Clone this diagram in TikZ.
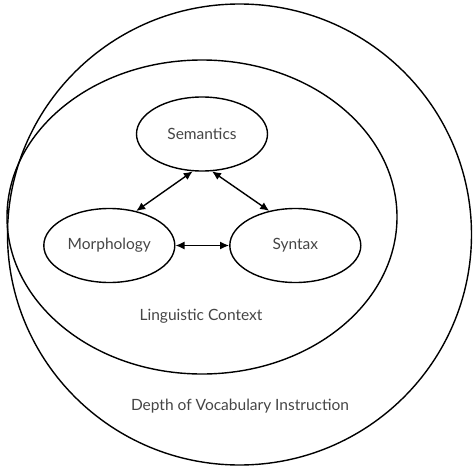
\documentclass[tikz,border=0pt]{standalone}
\usepackage{fontspec}
\setmainfont{Lato}
\usetikzlibrary{shapes.geometric,arrows.meta}
\definecolor{txtgray}{HTML}{454545}
\tikzset{
  ring/.style={draw=black, line width=1.4pt, ellipse, inner sep=0pt},
  topic/.style={draw=black, line width=1.4pt, ellipse, inner sep=0pt, minimum width=131pt, minimum height=74pt, text=txtgray, font=\fontsize{15.5}{18}\selectfont},
  lbl/.style={text=txtgray, font=\fontsize{15.5}{18}\selectfont, inner sep=0pt},
  link/.style={line width=1.4pt, {Latex[length=9pt,width=8pt]}-{Latex[length=9pt,width=8pt]}}
}
\begin{document}
\begin{tikzpicture}[x=1pt,y=-1pt]
\useasboundingbox (0,0) rectangle (474,474);
\node[ring, minimum width=464pt, minimum height=461pt] (outer) at (239.5,234.5) {};
\node[ring, minimum width=390pt, minimum height=314pt] (inner) at (202,217) {};
\node[topic] (sem) at (202,134) {Semantics};
\node[topic] (mor) at (109.3,245.5) {Morphology};
\node[topic] (syn) at (295.3,245.5) {Syntax};
\draw[link] (sem.256) -- (mor.52);
\draw[link] (sem.285) -- (syn.127);
\draw[link] (mor.east) -- (syn.west);
\node[lbl] (ling) at (201,316.7) {Linguistic Context};
\node[lbl] (depth) at (240,405.7) {Depth of Vocabulary Instruction};
\end{tikzpicture}
\end{document}
